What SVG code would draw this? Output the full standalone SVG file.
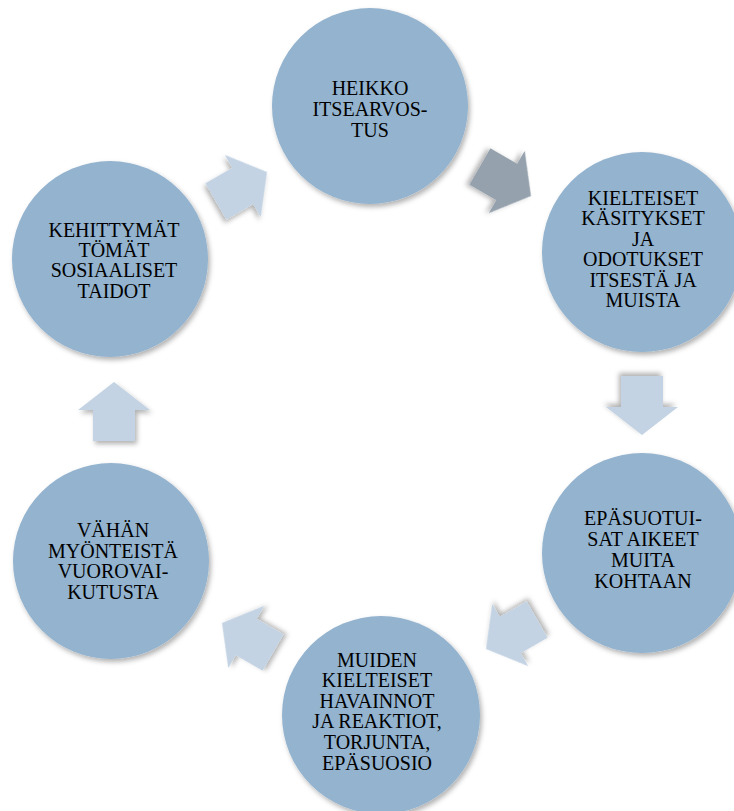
<svg xmlns="http://www.w3.org/2000/svg" width="734" height="811" viewBox="0 0 734 811">
  <defs>
    <filter id="shadow" x="-20%" y="-20%" width="140%" height="140%">
      <feDropShadow dx="2" dy="3" stdDeviation="2.5" flood-color="#000" flood-opacity="0.3"/>
    </filter>
    <path id="arrow" d="M0,-30 L36,-2 L21,-2 L21,29 L-21,29 L-21,-2 L-36,-2 Z"/>
  </defs>
  <style>
    .node circle { fill: #93b3cf; filter: url(#shadow); }
    .node text { font-family: 'Liberation Serif', 'Times New Roman', Times, serif; font-size: 20px; fill: #000; text-anchor: middle; }
    .arr { fill: #c3d3e3; filter: url(#shadow); }
    .arr.dark { fill: #95a1ad; }
  </style>
  <rect width="734" height="811" fill="#fff"/>

  <g id="connectors">
    <use href="#arrow" class="arr dark" transform="translate(505,181) rotate(120)"/>
    <use href="#arrow" class="arr" transform="translate(642,405) rotate(180)"/>
    <use href="#arrow" class="arr" transform="translate(512,634) rotate(240)"/>
    <use href="#arrow" class="arr" transform="translate(248,638) rotate(300)"/>
    <use href="#arrow" class="arr" transform="translate(114,412)"/>
    <use href="#arrow" class="arr" transform="translate(241,187) rotate(60)"/>
  </g>

  <g id="node-heikko" class="node">
    <circle cx="370" cy="106" r="98"/>
    <text x="370" y="95">HEIKKO</text>
    <text x="370" y="116">ITSEARVOS-</text>
    <text x="370" y="137">TUS</text>
  </g>

  <g id="node-kielteiset" class="node">
    <circle cx="642" cy="252" r="100"/>
    <text x="643" y="205">KIELTEISET</text>
    <text x="643" y="225">KÄSITYKSET</text>
    <text x="643" y="246">JA</text>
    <text x="643" y="266">ODOTUKSET</text>
    <text x="643" y="287">ITSESTÄ JA</text>
    <text x="643" y="307">MUISTA</text>
  </g>

  <g id="node-epasuotuisat" class="node">
    <circle cx="642" cy="553" r="100"/>
    <text x="643" y="525">EPÄSUOTUI-</text>
    <text x="643" y="546">SAT AIKEET</text>
    <text x="643" y="567">MUITA</text>
    <text x="643" y="588">KOHTAAN</text>
  </g>

  <g id="node-muiden" class="node">
    <circle cx="381" cy="715" r="99"/>
    <text x="377" y="667">MUIDEN</text>
    <text x="377" y="687">KIELTEISET</text>
    <text x="377" y="708">HAVAINNOT</text>
    <text x="377" y="728">JA REAKTIOT,</text>
    <text x="377" y="749">TORJUNTA,</text>
    <text x="377" y="770">EPÄSUOSIO</text>
  </g>

  <g id="node-vahan" class="node">
    <circle cx="111" cy="561" r="98"/>
    <text x="113" y="537">VÄHÄN</text>
    <text x="113" y="558">MYÖNTEISTÄ</text>
    <text x="113" y="578">VUOROVAI-</text>
    <text x="113" y="599">KUTUSTA</text>
  </g>

  <g id="node-kehittymattomat" class="node">
    <circle cx="110" cy="259" r="98"/>
    <text x="114" y="237">KEHITTYMÄT</text>
    <text x="114" y="257">TÖMÄT</text>
    <text x="114" y="277">SOSIAALISET</text>
    <text x="114" y="298">TAIDOT</text>
  </g>
</svg>
